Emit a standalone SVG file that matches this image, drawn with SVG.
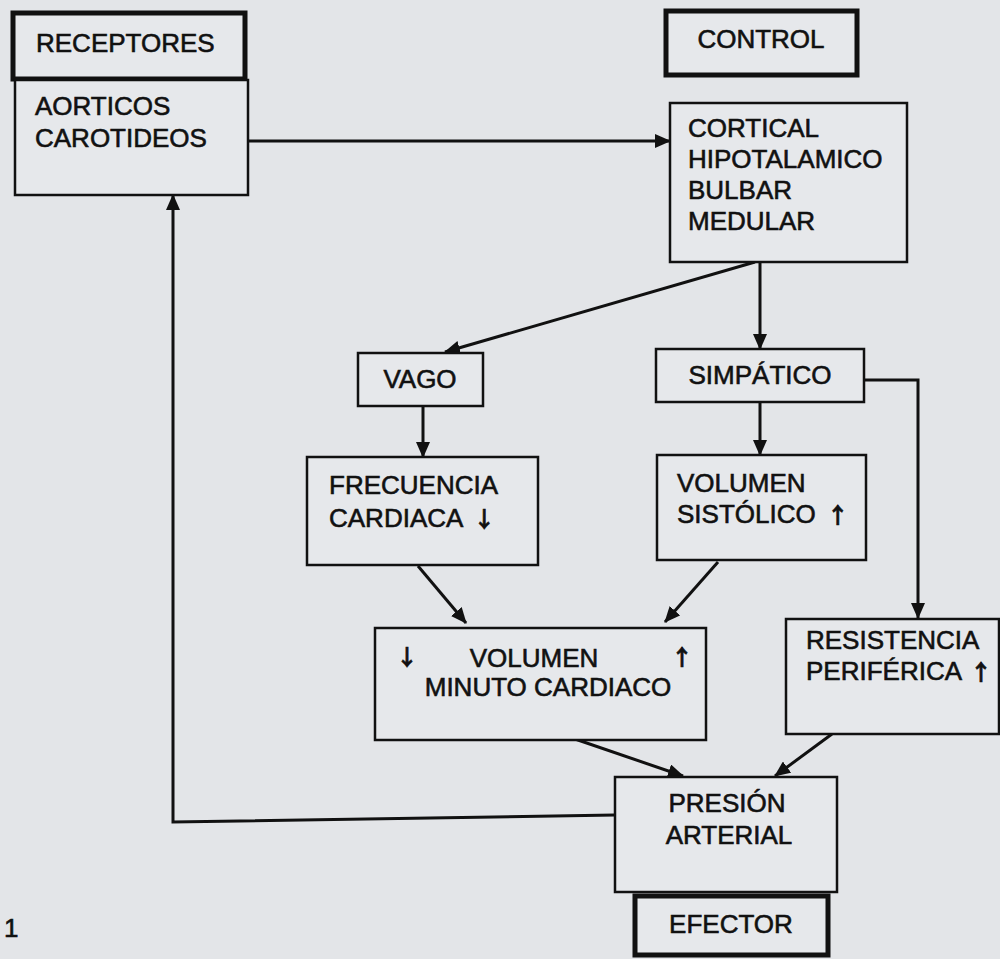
<svg xmlns="http://www.w3.org/2000/svg" width="1000" height="959" viewBox="0 0 1000 959">
<style>
.bg{fill:#e3e5e8}
.box{fill:#e6e8eb;stroke:#111;stroke-width:2.5}
.tbox{fill:#e6e8eb;stroke:#111;stroke-width:5}
text{font-family:"Liberation Sans",Arial,sans-serif;font-size:26px;fill:#111;stroke:#111;stroke-width:0.6}
.c{text-anchor:middle}
.ar{font-family:"Noto Sans CJK SC","DejaVu Sans",sans-serif;font-size:22px;font-weight:bold;stroke-width:0.6}
.arc{text-anchor:middle}
.con{fill:none;stroke:#111;stroke-width:3}
</style>
<defs>
<marker id="ah" markerUnits="userSpaceOnUse" markerWidth="16" markerHeight="14" refX="15" refY="7" orient="auto">
<path d="M0,0 L16,7 L0,14 z" fill="#111"/>
</marker>
</defs>
<rect class="bg" x="0" y="0" width="1000" height="959"/>

<g id="connectors">
<path class="con" d="M248,141 L670,141" marker-end="url(#ah)"/>
<path class="con" d="M755,262 L445,352" marker-end="url(#ah)"/>
<path class="con" d="M760,262 L760,349" marker-end="url(#ah)"/>
<path class="con" d="M864,380 L918,380 L918,618" marker-end="url(#ah)"/>
<path class="con" d="M423,405 L423,457" marker-end="url(#ah)"/>
<path class="con" d="M760,402 L760,455" marker-end="url(#ah)"/>
<path class="con" d="M418,566 L466,623" marker-end="url(#ah)"/>
<path class="con" d="M718,562 L665,622" marker-end="url(#ah)"/>
<path class="con" d="M575,739 L683,776" marker-end="url(#ah)"/>
<path class="con" d="M832,734 L775,776" marker-end="url(#ah)"/>
<path class="con" d="M615,815 L173,822 L173,195" marker-end="url(#ah)"/>
</g>

<g id="receptores">
<rect class="tbox" x="13" y="13" width="232" height="66"/>
<text x="36" y="52">RECEPTORES</text>
</g>
<g id="aorticos">
<rect class="box" x="15" y="80" width="233" height="115"/>
<text x="35" y="115">AORTICOS</text>
<text x="35" y="147">CAROTIDEOS</text>
</g>
<g id="control">
<rect class="tbox" x="666" y="11" width="191" height="64"/>
<text class="c" x="761" y="48">CONTROL</text>
</g>
<g id="cortical">
<rect class="box" x="670" y="103" width="237" height="159"/>
<text x="688" y="137">CORTICAL</text>
<text x="688" y="168">HIPOTALAMICO</text>
<text x="688" y="199">BULBAR</text>
<text x="688" y="230">MEDULAR</text>
</g>
<g id="vago">
<rect class="box" x="358" y="353" width="125" height="53"/>
<text class="c" x="420" y="388">VAGO</text>
</g>
<g id="simpatico">
<rect class="box" x="656" y="349" width="208" height="53"/>
<text class="c" x="760" y="384">SIMPÁTICO</text>
</g>
<g id="frecuencia">
<rect class="box" x="307" y="457" width="231" height="108"/>
<text x="329" y="494">FRECUENCIA</text>
<text x="329" y="527">CARDIACA<tspan class="ar" dx="10">↓</tspan></text>
</g>
<g id="volumen-sistolico">
<rect class="box" x="657" y="455" width="209" height="105"/>
<text x="677" y="492">VOLUMEN</text>
<text x="677" y="523">SISTÓLICO<tspan class="ar" dx="11">↑</tspan></text>
</g>
<g id="volumen-minuto">
<rect class="box" x="375" y="628" width="331" height="112"/>
<text class="ar arc" x="407" y="665">↓</text>
<text class="c" x="534" y="667">VOLUMEN</text>
<text class="ar arc" x="682" y="665">↑</text>
<text class="c" x="548" y="696">MINUTO CARDIACO</text>
</g>
<g id="resistencia">
<rect class="box" x="786" y="619" width="213" height="115"/>
<text x="806" y="649">RESISTENCIA</text>
<text x="806" y="680">PERIFÉRICA<tspan class="ar" dx="8">↑</tspan></text>
</g>
<g id="presion">
<rect class="box" x="615" y="777" width="222" height="115"/>
<text class="c" x="727" y="812">PRESIÓN</text>
<text class="c" x="729" y="844">ARTERIAL</text>
</g>
<g id="efector">
<rect class="tbox" x="635" y="896" width="193" height="59"/>
<text class="c" x="731" y="933">EFECTOR</text>
</g>
<text x="4" y="937" font-size="19">1</text>
</svg>
